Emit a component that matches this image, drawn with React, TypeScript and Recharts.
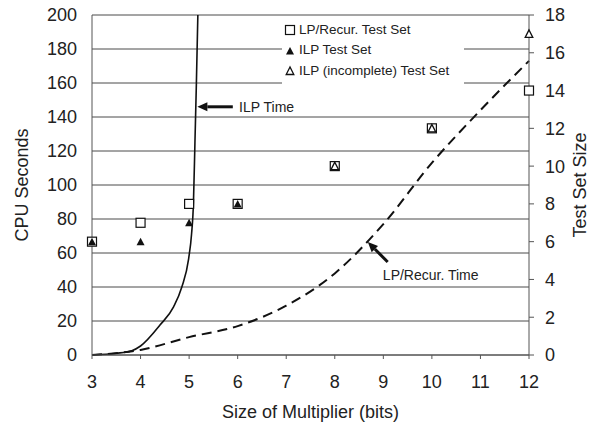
import React from "react";
import {
  ComposedChart,
  Line,
  Scatter,
  XAxis,
  YAxis,
  CartesianGrid,
  Legend,
  Label,
  ReferenceLine,
  ReferenceDot,
} from "recharts";

const FONT = "'Liberation Sans', Arial, sans-serif";
const INK = "#222";

// multiplier size (bits) on the x axis
const bitTicks = [3, 4, 5, 6, 7, 8, 9, 10, 11, 12];
const cpuTicks = [0, 20, 40, 60, 80, 100, 120, 140, 160, 180, 200];
const sizeTicks = [0, 2, 4, 6, 8, 10, 12, 14, 16, 18];

// ILP Time (CPU seconds)
const ilpTimeBits = [3, 3.5, 3.82, 4, 4.4, 4.68, 4.85, 4.99, 5.05, 5.09, 5.12, 5.15, 5.18];
const ilpTimeSec = [0, 1, 2.5, 5.3, 17.6, 28.3, 40, 56.6, 71, 90, 125, 160, 200];

// LP/Recur. Time (CPU seconds)
const lpTimeBits = [3, 4, 5, 6, 7, 8, 9, 10, 11, 12];
const lpTimeSec = [0, 3, 10.5, 17, 29, 48, 77, 113, 144, 173];

// test set sizes (right axis)
const lpSetBits = [3, 4, 5, 6, 8, 10, 12];
const lpSetSize = [6, 7, 8, 8, 10, 12, 14];
const ilpSetBits = [3, 4, 5, 6];
const ilpSetSize = [6, 6, 7, 8];
const ilpIncBits = [8, 10, 12];
const ilpIncSize = [10, 12, 17];

const zip = (xs: number[], ys: number[]) => xs.map((x, i) => ({ x, y: ys[i] }));

const ilpTime = zip(ilpTimeBits, ilpTimeSec);
const lpTime = zip(lpTimeBits, lpTimeSec);
const lpSet = zip(lpSetBits, lpSetSize);
const ilpSet = zip(ilpSetBits, ilpSetSize);
const ilpInc = zip(ilpIncBits, ilpIncSize);

const OpenSquare = ({ cx, cy }: any) => (
  <rect x={cx - 4.5} y={cy - 4.5} width={9} height={9} fill="#fff" stroke="#111" strokeWidth={1.2} />
);

const FilledTriangle = ({ cx, cy }: any) => (
  <polygon points={`${cx},${cy - 4} ${cx - 4},${cy + 3.5} ${cx + 4},${cy + 3.5}`} fill="#111" />
);

const OpenTriangle = ({ cx, cy }: any) => (
  <polygon
    points={`${cx},${cy - 4} ${cx - 3.8},${cy + 3.5} ${cx + 3.8},${cy + 3.5}`}
    fill="#fff"
    stroke="#111"
    strokeWidth={1.3}
  />
);

const Arrow = ({ x1, y1, x2, y2 }: any) => {
  const ang = Math.atan2(y2 - y1, x2 - x1);
  const len = 10;
  const w = 4.5;
  const bx = x2 - len * Math.cos(ang);
  const by = y2 - len * Math.sin(ang);
  const px = -Math.sin(ang) * w;
  const py = Math.cos(ang) * w;
  return (
    <g>
      <line x1={x1} y1={y1} x2={bx} y2={by} stroke="#111" strokeWidth={3} />
      <polygon points={`${x2},${y2} ${bx + px},${by + py} ${bx - px},${by - py}`} fill="#111" />
    </g>
  );
};

const noteText = (text: string) => ({ cx, cy }: any) => (
  <text x={cx} y={cy} dy="0.35em" fontSize={14} fontFamily={FONT} fill={INK}>
    {text}
  </text>
);

const leftTitle = ({ viewBox }: any) => {
  const x = viewBox.x + 22;
  const y = viewBox.y + viewBox.height / 2;
  return (
    <text x={x} y={y} dy="0.36em" transform={`rotate(-90, ${x}, ${y})`} textAnchor="middle" fontSize={18} fontFamily={FONT} fill={INK}>
      CPU Seconds
    </text>
  );
};

const rightTitle = ({ viewBox }: any) => {
  const x = viewBox.x + 51;
  const y = viewBox.y + viewBox.height / 2;
  return (
    <text x={x} y={y} dy="0.36em" transform={`rotate(-90, ${x}, ${y})`} textAnchor="middle" fontSize={18} fontFamily={FONT} fill={INK}>
      Test Set Size
    </text>
  );
};

const bottomTitle = ({ viewBox }: any) => (
  <text x={viewBox.x + viewBox.width / 2} y={viewBox.y + 57} dy="0.36em" textAnchor="middle" fontSize={18} fontFamily={FONT} fill={INK}>
    Size of Multiplier (bits)
  </text>
);

const legendItems = [
  { label: "LP/Recur. Test Set", Icon: OpenSquare },
  { label: "ILP Test Set", Icon: FilledTriangle },
  { label: "ILP (incomplete) Test Set", Icon: OpenTriangle },
];

const LegendBox = () => (
  <div style={{ fontFamily: FONT, fontSize: 13.5, color: INK }}>
    {legendItems.map(({ label, Icon }) => (
      <div key={label} style={{ display: "flex", alignItems: "center", height: 20.5 }}>
        <svg width={16} height={14} style={{ marginLeft: 1 }}>
          <Icon cx={7} cy={8} />
        </svg>
        <span>{label}</span>
      </div>
    ))}
  </div>
);

const tickStyle = { fontSize: 18, fontFamily: FONT, fill: INK };

export default function App() {
  return (
    <div style={{ position: "absolute", left: 0, top: 0, background: "#fff" }}>
      <ComposedChart width={600} height={425} margin={{ top: 15, right: 0, bottom: 0, left: 0 }}>
        <CartesianGrid yAxisId="left" vertical={false} stroke="#4a4a4a" />
        <XAxis
          dataKey="x"
          type="number"
          domain={[3, 12]}
          ticks={bitTicks}
          height={70}
          stroke="#555"
          tickSize={4}
          tickMargin={16}
          tick={tickStyle}
        >
          <Label content={bottomTitle} />
        </XAxis>
        <YAxis
          yAxisId="left"
          dataKey="y"
          type="number"
          domain={[0, 200]}
          ticks={cpuTicks}
          width={92}
          stroke="#555"
          tickLine={false}
          tickSize={6}
          tickMargin={9}
          tick={tickStyle}
        >
          <Label content={leftTitle} />
        </YAxis>
        <YAxis
          yAxisId="right"
          orientation="right"
          dataKey="y"
          type="number"
          domain={[0, 18]}
          ticks={sizeTicks}
          width={71}
          stroke="#555"
          tickSize={5}
          tickMargin={11}
          tick={tickStyle}
        >
          <Label content={rightTitle} />
        </YAxis>
        <Legend
          layout="vertical"
          align="center"
          verticalAlign="middle"
          content={<LegendBox />}
          wrapperStyle={{ top: 17, left: 282, width: 182, height: 70, background: "#fff", paddingTop: 2 }}
        />
        <Line
          yAxisId="left"
          data={ilpTime}
          dataKey="y"
          type="monotone"
          stroke="#111"
          strokeWidth={1.6}
          dot={false}
          isAnimationActive={false}
          legendType="none"
        />
        <Line
          yAxisId="left"
          data={lpTime}
          dataKey="y"
          type="monotone"
          stroke="#111"
          strokeWidth={2}
          strokeDasharray="10 6"
          dot={false}
          isAnimationActive={false}
          legendType="none"
        />
        <Scatter yAxisId="right" data={lpSet} shape={<OpenSquare />} isAnimationActive={false} />
        <Scatter yAxisId="right" data={ilpSet} shape={<FilledTriangle />} isAnimationActive={false} />
        <Scatter yAxisId="right" data={ilpInc} shape={<OpenTriangle />} isAnimationActive={false} />
        <ReferenceLine
          yAxisId="left"
          segment={[{ x: 5.9, y: 146 }, { x: 5.17, y: 146 }]}
          shape={<Arrow />}
        />
        <ReferenceDot yAxisId="left" x={6.03} y={146} r={0} shape={noteText("ILP Time")} />
        <ReferenceLine
          yAxisId="left"
          segment={[{ x: 9.09, y: 54.7 }, { x: 8.68, y: 66.5 }]}
          shape={<Arrow />}
        />
        <ReferenceDot yAxisId="left" x={8.99} y={47} r={0} shape={noteText("LP/Recur. Time")} />
      </ComposedChart>
    </div>
  );
}
